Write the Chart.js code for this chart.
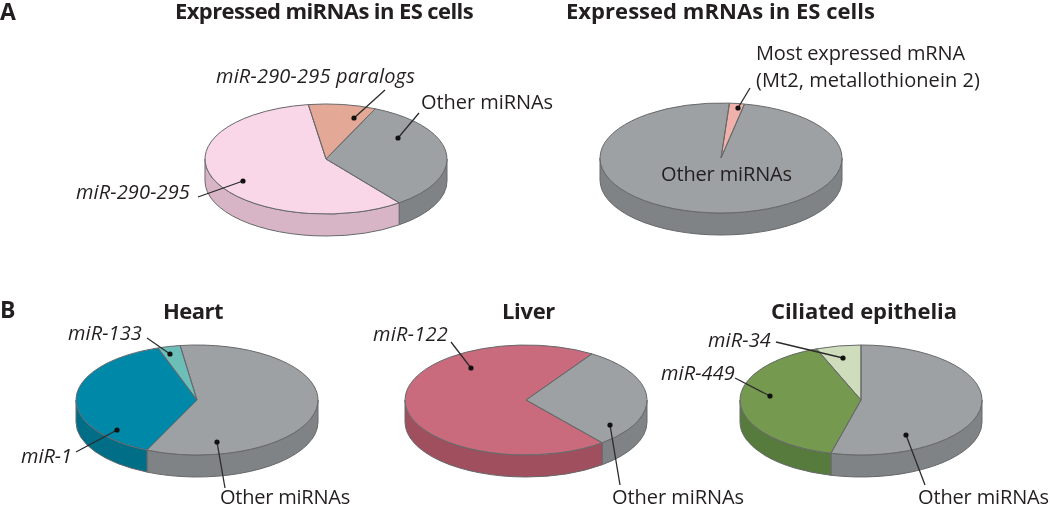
<!DOCTYPE html>
<html><head><meta charset="utf-8">
<style>
html,body{margin:0;padding:0;background:#fff;}
#page{position:relative;width:1050px;height:505px;overflow:hidden;font-family:"Open Sans",sans-serif;color:#231f20;}
canvas{position:absolute;}
svg{position:absolute;left:0;top:0;}
.t{position:absolute;white-space:nowrap;transform:translateY(-50%);line-height:1;}
.lab{font-size:20px;}
.it{font-style:italic;}
.h{font-size:22px;font-weight:700;}
.p{font-size:23px;font-weight:700;}
</style>
<script src="https://cdn.jsdelivr.net/npm/chart.js@4/dist/chart.umd.min.js"></script>
</head><body><div id="page"></div>
<script>
// ---- data (percent of expressed reads) ----
const esMirnaLabels = ['Other miRNAs','miR-290-295','miR-290-295 paralogs'];
const esMirnaValues = [33,58,9];
const esMrnaLabels = ['Most expressed mRNA (Mt2, metallothionein 2)','Other miRNAs'];
const esMrnaValues = [2,98];
const heartLabels = ['Other miRNAs','miR-1','miR-133'];
const heartValues = [59,38,3];
const liverLabels = ['Other miRNAs','miR-122'];
const liverValues = [30,70];
const ciliaLabels = ['Other miRNAs','miR-449','miR-34'];
const ciliaValues = [54,40,6];

// ---- styles ----
const GREY='#9ea1a3', GREY_SIDE='#808386';
const pies = [
 {labels:esMirnaLabels,values:esMirnaValues,rotation:24,cx:326,cy:159,
  colors:[GREY,'#f9d7e9','#e3a996'],sides:[GREY_SIDE,'#d8b5c6','#c08f80']},
 {labels:esMrnaLabels,values:esMrnaValues,rotation:4,cx:721,cy:158,
  colors:['#efb1a9',GREY],sides:['#c99088',GREY_SIDE]},
 {labels:heartLabels,values:heartValues,rotation:-8,cx:197,cy:400,
  colors:[GREY,'#0088a9','#6cbfb9'],sides:[GREY_SIDE,'#006e86','#559a95']},
 {labels:liverLabels,values:liverValues,rotation:33,cx:526,cy:400,
  colors:[GREY,'#c96b7c'],sides:[GREY_SIDE,'#a04f5f']},
 {labels:ciliaLabels,values:ciliaValues,rotation:0,cx:861,cy:400,
  colors:[GREY,'#75994f','#d0ddbd'],sides:[GREY_SIDE,'#567b3d','#a9b698']}
];
const RX=121, RY=55, DEPTH=22, EDGE='#66686a';

// text, left, middle y, class, width to fit
const titles=[
 ['A',0,11,'p',0],['B',0,309,'p',0],
 ['Expressed miRNAs in ES cells',175,10,'h',298],['Expressed mRNAs in ES cells',566,10,'h',309],
 ['Heart',163,310,'h',60],['Liver',502,310,'h',53],['Ciliated epithelia',771,310,'h',186]
];
const notes=[
 ['miR-290-295 paralogs',216,76,'lab it',199],['Other miRNAs',421,102,'lab',132],['miR-290-295',76,192,'lab it',114],
 ['Most expressed mRNA',756,53,'lab',209],['(Mt2, metallothionein 2)',756,80,'lab',224],['Other miRNAs',661,174,'lab',131],
 ['miR-133',68,333,'lab it',74],['miR-1',21,456,'lab it',51],['Other miRNAs',220,497,'lab',130],
 ['miR-122',373,334,'lab it',75],['Other miRNAs',612,497,'lab',132],
 ['miR-34',708,340,'lab it',63],['miR-449',661,373,'lab it',74],['Other miRNAs',918,497,'lab',131]
];
const leaders=[
 [354,118,385,90],[398,138,419,113],[243,181,198,197],[738,108,750,88],
 [170,354,147,338],[117,430,76,452],[217,442,225,488],
 [471,368,451,342],[610,425,620,485],
 [843,358,776,342],[770,396,735,378],[906,435,925,485]
];

const page=document.getElementById('page');
const pie3d={
 id:'pie3d',
 beforeDatasetsDraw(chart){
  const ctx=chart.ctx, arcs=chart.getDatasetMeta(0).data, o=chart.options.plugins.pie3d;
  const a0=arcs[0], x=a0.x, y=a0.y, rx=a0.outerRadius, ry=rx*RY/RX;
  arcs.forEach((a,i)=>{
   for(const k of [-2,0,2]){
    const s=Math.max(a.startAngle+k*Math.PI,0), e=Math.min(a.endAngle+k*Math.PI,Math.PI);
    if(e<=s) continue;
    ctx.beginPath();
    ctx.ellipse(x,y,rx,ry,0,s,e);
    ctx.ellipse(x,y+DEPTH,rx,ry,0,e,s,true);
    ctx.closePath();
    ctx.fillStyle=o.sides[i];ctx.fill();
    ctx.strokeStyle=EDGE;ctx.lineWidth=1;ctx.stroke();
   }
  });
  ctx.save();
  ctx.translate(x,y);ctx.scale(1,RY/RX);ctx.translate(-x,-y);
 },
 afterDatasetsDraw(chart){
  const ctx=chart.ctx, arcs=chart.getDatasetMeta(0).data;
  ctx.restore();
  const a0=arcs[0], x=a0.x, y=a0.y, rx=a0.outerRadius, ry=rx*RY/RX;
  arcs.forEach(a=>{
   ctx.beginPath();
   ctx.moveTo(x,y);
   ctx.ellipse(x,y,rx,ry,0,a.startAngle,a.endAngle);
   ctx.closePath();
   ctx.strokeStyle=EDGE;ctx.lineWidth=1;ctx.stroke();
  });
 }
};
pies.forEach(p=>{
 const c=document.createElement('canvas');
 c.width=c.height=262;
 c.style.left=(p.cx-131)+'px';c.style.top=(p.cy-131)+'px';
 c.style.width=c.style.height='262px';
 page.appendChild(c);
 new Chart(c,{type:'pie',
  data:{labels:p.labels,datasets:[{data:p.values,backgroundColor:p.colors,borderWidth:0}]},
  options:{responsive:false,animation:false,rotation:p.rotation,layout:{padding:10},
   plugins:{legend:{display:false},tooltip:{enabled:false},pie3d:{sides:p.sides}}},
  plugins:[pie3d]});
});
const NS='http://www.w3.org/2000/svg';
const svg=document.createElementNS(NS,'svg');
svg.setAttribute('width',1050);svg.setAttribute('height',505);
leaders.forEach(l=>{
 const ln=document.createElementNS(NS,'line');
 ln.setAttribute('x1',l[0]);ln.setAttribute('y1',l[1]);ln.setAttribute('x2',l[2]);ln.setAttribute('y2',l[3]);
 ln.setAttribute('stroke','#2b2b2b');ln.setAttribute('stroke-width',1.3);svg.appendChild(ln);
 const d=document.createElementNS(NS,'circle');
 d.setAttribute('cx',l[0]);d.setAttribute('cy',l[1]);d.setAttribute('r',2.6);d.setAttribute('fill','#111');svg.appendChild(d);
});
page.appendChild(svg);
titles.concat(notes).forEach(t=>{
 const e=document.createElement('div');e.className='t '+t[3];e.textContent=t[0];
 e.style.left=t[1]+'px';e.style.top=t[2]+'px';page.appendChild(e);
 if(t[4]){
  const w=e.getBoundingClientRect().width;
  e.style.letterSpacing=((t[4]-w)/t[0].length)+'px';
 }
});
</script></body></html>
